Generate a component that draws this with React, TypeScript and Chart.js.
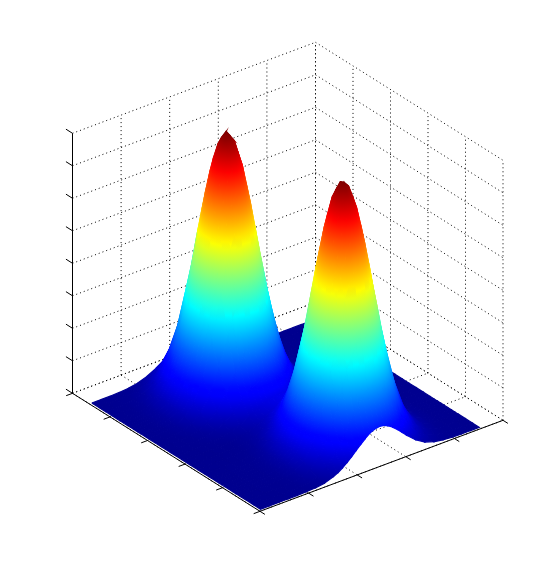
import React, { useEffect, useRef } from "react";
import { Chart, registerables } from "chart.js";

Chart.register(...registerables);

// Axis fractions along the two floor directions and height
const uTicks = [0, 0.2, 0.4, 0.6, 0.8, 1];
const vTicks = [0, 0.2, 0.4, 0.6, 0.8, 1];
const zTicks = [0, 0.125, 0.25, 0.375, 0.5, 0.625, 0.75, 0.875, 1];

// Surface sample positions (denser around the two peaks)
const uGrid = [0.09, 0.1275, 0.165, 0.2025, 0.24, 0.25875, 0.2775, 0.29625, 0.315, 0.33375, 0.3525, 0.37125, 0.39, 0.4275, 0.465, 0.5025, 0.54, 0.5775, 0.615, 0.6525, 0.69, 0.7275, 0.74625, 0.765, 0.78375, 0.8025, 0.82125, 0.84, 0.85875, 0.8775, 0.915, 0.9525, 0.99];
const vGrid = [0.01, 0.0475, 0.085, 0.1225, 0.16, 0.1975, 0.235, 0.2725, 0.31, 0.32875, 0.3475, 0.36625, 0.385, 0.40375, 0.4225, 0.44125, 0.46, 0.47875, 0.4975, 0.51625, 0.535, 0.55375, 0.5725, 0.59125, 0.61, 0.6475, 0.685, 0.7225, 0.76, 0.7975, 0.835, 0.8725, 0.91];

// Surface heights (thousandths of the z axis), one row per uGrid entry
const surfaceHeights = [
  [0,0,0,1,4,10,22,40,63,75,85,93,98,99,96,90,81,70,58,47,36,27,19,13,9,3,1,0,0,0,0,0,0],
  [0,0,1,3,8,21,46,84,132,156,178,194,205,207,201,188,170,147,122,98,75,56,40,27,18,7,2,1,0,0,0,0,0],
  [0,0,2,5,15,39,83,152,239,283,322,352,371,375,365,341,307,266,221,177,137,101,72,50,33,13,4,1,0,0,0,0,0],
  [0,1,2,8,24,61,131,240,378,447,508,556,585,591,575,539,485,420,349,280,215,160,114,78,52,20,7,2,1,0,0,0,0],
  [0,1,3,11,33,83,179,329,517,612,695,761,800,809,787,737,663,574,478,383,295,219,156,107,70,28,9,2,1,0,0,0,0],
  [0,1,4,13,37,93,199,365,574,679,771,844,888,898,874,818,736,637,530,425,327,243,173,119,78,31,10,3,1,0,0,0,0],
  [0,1,4,13,39,99,213,391,614,727,826,904,951,962,936,876,789,683,568,455,351,260,185,127,84,33,11,3,1,0,0,0,0],
  [0,1,4,14,41,103,220,404,635,752,855,935,984,1000,968,906,816,706,588,471,363,269,191,131,87,34,11,3,1,0,0,0,0],
  [0,1,4,14,41,102,220,404,635,751,854,934,983,994,967,905,815,705,587,471,362,269,191,131,87,34,11,3,1,0,0,0,0],
  [0,1,4,13,39,99,212,390,612,725,824,901,948,959,933,874,786,681,566,454,349,259,184,127,84,33,11,3,1,0,0,0,0],
  [0,1,4,13,37,92,197,363,570,674,766,839,882,892,868,813,731,633,527,422,325,241,171,118,78,30,10,3,1,0,0,0,0],
  [0,1,3,11,33,83,177,326,512,606,689,754,793,802,781,731,658,569,474,380,292,217,154,106,70,27,9,2,1,0,0,0,0],
  [0,1,3,10,29,72,154,283,445,526,598,654,689,696,677,634,571,494,411,330,254,188,134,92,61,24,8,2,1,0,0,0,0],
  [0,0,2,7,19,49,104,192,301,356,405,443,466,473,460,431,388,336,279,224,172,128,91,63,41,16,5,1,0,0,0,0,0],
  [0,0,1,4,11,29,61,113,177,211,240,262,277,280,273,256,232,201,168,135,105,78,56,40,26,10,3,1,0,0,0,0,0],
  [0,0,1,2,6,15,31,58,93,110,126,138,147,150,148,141,129,115,98,81,65,50,37,28,19,9,4,1,0,0,0,0,0],
  [0,0,0,1,3,6,14,28,45,56,65,74,81,87,90,90,89,84,77,69,60,51,42,33,25,14,7,3,1,0,0,0,0],
  [0,0,0,0,1,2,7,15,28,37,47,59,70,82,92,101,108,111,110,106,99,88,77,64,51,30,14,6,2,1,0,0,0],
  [0,0,0,0,0,2,6,15,32,46,63,83,105,129,153,174,192,203,207,203,192,174,153,128,104,61,30,13,5,1,0,0,0],
  [0,0,0,0,1,2,7,22,51,74,104,139,179,222,266,306,339,360,369,363,345,315,275,232,188,110,55,24,9,3,1,0,0],
  [0,0,0,0,1,3,12,33,79,115,161,216,280,349,417,481,533,567,582,573,544,496,435,367,298,175,87,38,14,4,1,1,0],
  [0,0,0,1,2,5,16,46,108,158,221,298,386,480,575,662,734,782,802,790,749,683,599,506,411,241,120,52,19,6,2,1,0],
  [0,0,0,1,2,5,18,51,120,176,246,331,429,534,640,737,816,870,892,879,833,760,666,563,457,268,134,58,21,6,2,1,0],
  [0,0,0,1,2,6,19,55,129,189,265,356,461,574,688,792,877,935,959,945,896,817,716,605,491,288,144,62,23,7,2,1,0],
  [0,0,0,1,2,6,20,57,134,196,275,369,479,596,713,822,910,970,995,980,929,848,743,628,509,299,149,65,24,7,2,1,0],
  [0,0,0,1,2,6,20,57,134,196,275,370,479,597,714,823,911,971,1002,981,930,849,744,628,510,299,149,65,24,7,2,1,0],
  [0,0,0,1,2,6,19,55,130,190,266,358,464,577,691,796,882,940,964,950,900,821,720,608,494,289,145,63,23,7,2,1,0],
  [0,0,0,1,2,5,18,51,122,177,248,334,433,539,645,743,824,878,900,887,841,767,672,568,461,270,135,59,22,6,2,1,0],
  [0,0,0,1,2,5,16,46,109,160,224,301,390,486,581,670,742,791,811,799,757,691,606,512,415,243,122,53,19,6,2,1,0],
  [0,0,0,1,1,4,14,40,95,139,195,262,339,422,505,582,645,687,705,694,658,601,527,445,361,212,106,46,17,5,1,1,0],
  [0,0,0,0,1,3,10,27,65,95,133,178,231,288,345,397,440,469,481,474,449,410,359,304,246,144,72,31,12,3,1,0,0],
  [0,0,0,0,1,2,6,16,38,56,79,106,137,171,204,235,261,278,285,281,266,243,213,180,146,86,43,19,7,2,1,0,0],
  [0,0,0,0,0,1,3,8,20,29,41,55,71,88,105,121,135,143,147,145,137,125,110,93,75,44,22,10,4,1,0,0,0],
];

// Oblique view of the 3D box on the 556x575 plane
const view = { ox: 72.5, oy: 393.3, ux: 187.5, uy: 118, vx: 243, vy: -91, zh: 260 };
const project = (u: number, v: number, z: number) => ({
  x: view.ox + u * view.ux + v * view.vx,
  y: view.oy + u * view.uy + v * view.vy - z * view.zh,
});

const clamp01 = (t: number) => Math.max(0, Math.min(1, t));
const jet = (t: number) => {
  const c = clamp01(t);
  const r = clamp01(Math.min(4 * c - 1.5, -4 * c + 4.5));
  const g = clamp01(Math.min(4 * c - 0.5, -4 * c + 3.5));
  const b = clamp01(Math.min(4 * c + 0.5625, -4 * c + 2.5));
  return `rgb(${Math.round(r * 255)},${Math.round(g * 255)},${Math.round(b * 255)})`;
};

type P = { x: number; y: number };

function quadPaint(chart: any, pts: P[], zs: number[]) {
  const zMin = Math.min(...zs);
  const zMax = Math.max(...zs);
  const flat = jet((zMin + zMax) / 2);
  if (!chart.scales?.x || !chart.chartArea || zMax - zMin < 1e-4) return flat;
  const px = pts.map((p) => ({ x: chart.scales.x.getPixelForValue(p.x), y: chart.scales.y.getPixelForValue(p.y) }));
  if (px.some((p) => !Number.isFinite(p.x) || !Number.isFinite(p.y))) return flat;
  const d1x = px[2].x - px[0].x, d1y = px[2].y - px[0].y, dz1 = zs[2] - zs[0];
  const d2x = px[3].x - px[1].x, d2y = px[3].y - px[1].y, dz2 = zs[3] - zs[1];
  const det = d1x * d2y - d1y * d2x;
  const cx = (px[0].x + px[1].x + px[2].x + px[3].x) / 4;
  const cy = (px[0].y + px[1].y + px[2].y + px[3].y) / 4;
  const zc = (zs[0] + zs[1] + zs[2] + zs[3]) / 4;
  let gx = 0, gy = 0;
  if (Math.abs(det) > 4) {
    gx = (dz1 * d2y - dz2 * d1y) / det;
    gy = (d1x * dz2 - d2x * dz1) / det;
  } else {
    const lo = zs.indexOf(zMin), hi = zs.indexOf(zMax);
    const dx = px[hi].x - px[lo].x, dy = px[hi].y - px[lo].y;
    const l2 = dx * dx + dy * dy || 1;
    gx = (dx * (zMax - zMin)) / l2;
    gy = (dy * (zMax - zMin)) / l2;
  }
  const g2 = gx * gx + gy * gy;
  if (g2 < 1e-12) return flat;
  const x0 = cx + (gx * (zMin - zc)) / g2;
  const y0 = cy + (gy * (zMin - zc)) / g2;
  const x1 = cx + (gx * (zMax - zc)) / g2;
  const y1 = cy + (gy * (zMax - zc)) / g2;
  if (![x0, y0, x1, y1].every(Number.isFinite)) return flat;
  const grad = chart.ctx.createLinearGradient(x0, y0, x1, y1);
  for (let s = 0; s <= 6; s++) grad.addColorStop(s / 6, jet(zMin + ((zMax - zMin) * s) / 6));
  return grad;
}

function lineSet(points: P[], dotted: boolean) {
  return {
    data: points,
    borderColor: "#000",
    borderWidth: 1,
    borderDash: dotted ? [1, 3] : [],
    pointRadius: 0,
    fill: false,
    tension: 0,
  };
}

function buildDatasets() {
  const sets: any[] = [];

  // Solid axes and tick marks (top-most)
  sets.push(lineSet([project(0, 0, 0), project(1, 0, 0), project(1, 1, 0)], false));
  sets.push(lineSet([project(0, 0, 0), project(0, 0, 1)], false));
  for (const t of uTicks) sets.push(lineSet([project(t, 0, 0), project(t, -0.026, 0)], false));
  for (const t of vTicks) sets.push(lineSet([project(1, t, 0), project(1.026, t, 0)], false));
  for (const t of zTicks) sets.push(lineSet([project(0, 0, t), project(-0.035, 0, t)], false));

  // Surface quads, nearest first because the first dataset is painted last
  for (let i = uGrid.length - 2; i >= 0; i--) {
    for (let j = 0; j < vGrid.length - 1; j++) {
      const corners: [number, number][] = [[i, j], [i + 1, j], [i + 1, j + 1], [i, j + 1]];
      const zs = corners.map(([a, b]) => surfaceHeights[a][b] / 1000);
      const pts = corners.map(([a, b], k) => project(uGrid[a], vGrid[b], zs[k]));
      const paint = (ctx: any) => quadPaint(ctx.chart, pts, zs);
      sets.push({
        data: [...pts, pts[0]],
        backgroundColor: paint,
        borderColor: paint,
        borderWidth: 1.2,
        pointRadius: 0,
        fill: "shape",
        tension: 0,
      });
    }
  }

  // Dotted grid on the floor and the two back walls
  for (const t of uTicks) {
    sets.push(lineSet([project(t, 0, 0), project(t, 1, 0)], true));
    sets.push(lineSet([project(t, 1, 0), project(t, 1, 1)], true));
  }
  for (const t of vTicks) {
    sets.push(lineSet([project(0, t, 0), project(1, t, 0)], true));
    sets.push(lineSet([project(0, t, 0), project(0, t, 1)], true));
  }
  for (const t of zTicks) {
    sets.push(lineSet([project(0, 0, t), project(0, 1, t)], true));
    sets.push(lineSet([project(0, 1, t), project(1, 1, t)], true));
  }
  return sets;
}

export default function App() {
  const ref = useRef<HTMLCanvasElement | null>(null);
  useEffect(() => {
    if (!ref.current) return;
    const chart = new Chart(ref.current, {
      type: "line",
      data: { datasets: buildDatasets() },
      options: {
        animation: false,
        responsive: false,
        events: [],
        layout: { padding: 0 },
        scales: {
          x: { type: "linear", min: 0, max: 556, display: false },
          y: { type: "linear", min: 0, max: 575, reverse: true, display: false },
        },
        plugins: { legend: { display: false }, tooltip: { enabled: false }, title: { display: false } },
      },
    } as any);
    return () => chart.destroy();
  }, []);
  return (
    <div style={{ position: "absolute", left: 0, top: 0, background: "#fff" }}>
      <canvas ref={ref} width={556} height={575} style={{ display: "block" }} />
    </div>
  );
}
